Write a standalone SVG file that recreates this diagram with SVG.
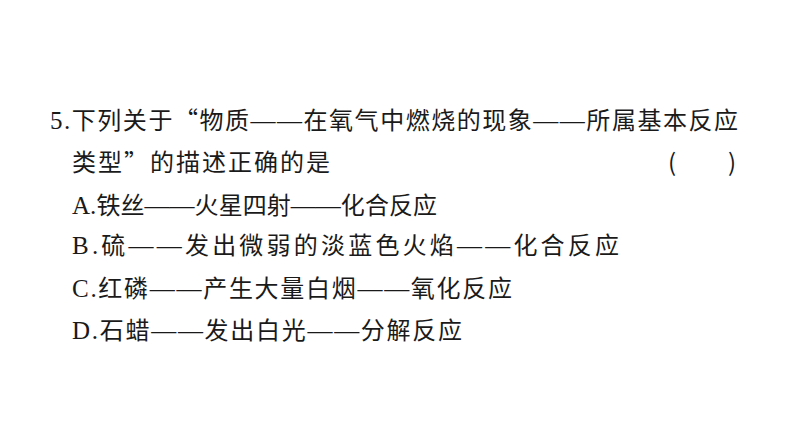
<svg xmlns="http://www.w3.org/2000/svg" width="794" height="447" viewBox="0 0 794 447">
<style>
text{font-family:"Noto Sans CJK SC","Noto Sans",sans-serif;font-size:24px;fill:#1a1a1a}
.s{font-family:"Liberation Serif",serif;font-size:25px}
.d{font-family:"Liberation Serif",serif;font-size:25px}
</style>
<rect width="794" height="447" fill="#fff"/>
<g id="q">
<text x="50" y="129" textLength="688" lengthAdjust="spacing"><tspan class="s">5.</tspan>下列关于“物质<tspan class="d">——</tspan>在氧气中燃烧的现象<tspan class="d">——</tspan>所属基本反应</text>
<text x="72" y="171" textLength="258" lengthAdjust="spacing">类型”的描述正确的是</text>
<text x="668" y="171">(</text>
<text x="728" y="171">)</text>
</g>
<g id="a"><text x="72" y="214" textLength="365" lengthAdjust="spacing"><tspan class="s">A.</tspan>铁丝<tspan class="d">——</tspan>火星四射<tspan class="d">——</tspan>化合反应</text></g>
<g id="b"><text x="72" y="254" textLength="547" lengthAdjust="spacing"><tspan class="s">B.</tspan>硫<tspan class="d">——</tspan>发出微弱的淡蓝色火焰<tspan class="d">——</tspan>化合反应</text></g>
<g id="c"><text x="72" y="297" textLength="440" lengthAdjust="spacing"><tspan class="s">C.</tspan>红磷<tspan class="d">——</tspan>产生大量白烟<tspan class="d">——</tspan>氧化反应</text></g>
<g id="d"><text x="72" y="339" textLength="390" lengthAdjust="spacing"><tspan class="s">D.</tspan>石蜡<tspan class="d">——</tspan>发出白光<tspan class="d">——</tspan>分解反应</text></g>
</svg>
